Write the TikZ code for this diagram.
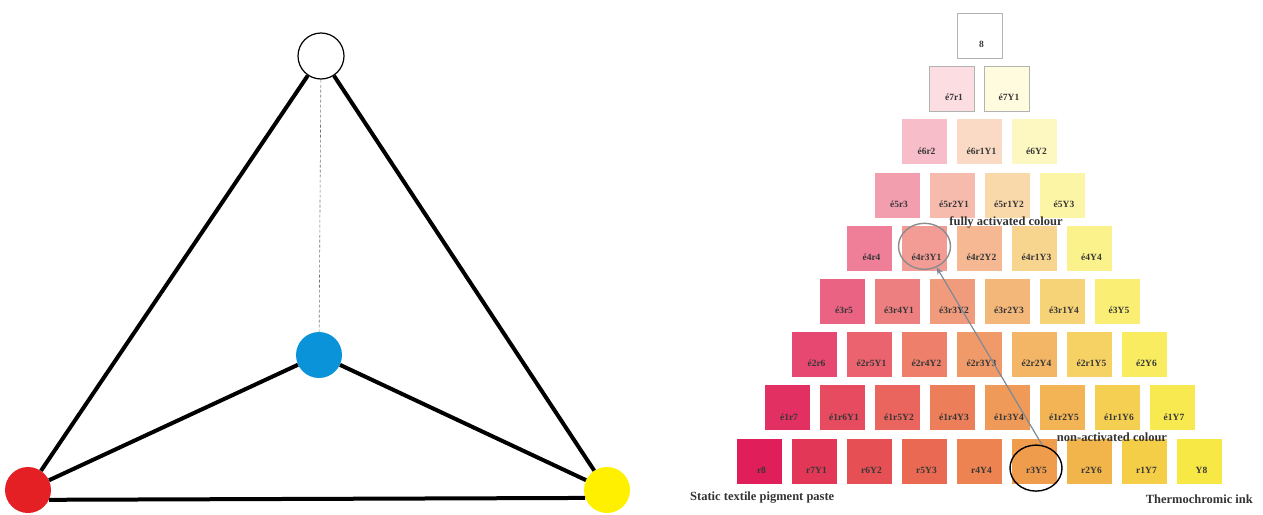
\documentclass[tikz,border=0pt]{standalone}
\usepackage{fontspec}
\setmainfont{Liberation Serif}
\usetikzlibrary{shapes.geometric,arrows.meta}
\definecolor{labtext}{RGB}{55,55,55}
\definecolor{dotblue}{RGB}{11,147,217}
\definecolor{dotred}{RGB}{228,32,37}
\definecolor{dotyellow}{RGB}{255,240,0}
\definecolor{arrowgray}{RGB}{125,138,150}
\tikzset{
  dot/.style={circle, minimum size=46pt, inner sep=0pt},
  edge/.style={line width=4pt, black},
  dashline/.style={densely dashed, line width=0.6pt, black!55},
  cell/.style={rectangle, minimum size=45pt, inner sep=0pt},
  lbl/.style={font=\bfseries\fontsize{9.5}{10}\selectfont, text=labtext, inner sep=0pt},
  caption/.style={font=\bfseries\fontsize{12.5}{14}\selectfont, text=black!80, inner sep=0pt},
  ring/.style={ellipse, minimum width=52pt, minimum height=46pt, inner sep=0pt, line width=1.4pt}
}
\begin{document}
\begin{tikzpicture}[x=1pt,y=-1pt]
\useasboundingbox (0,0) rectangle (1263,514);
% ---- left tetrahedron ----
\node[dot, draw=black, line width=1.2pt, fill=white] (top) at (321,56) {};
\node[dot, fill=dotblue] (blue) at (319,355) {};
\node[dot, fill=dotred] (red) at (28,490) {};
\node[dot, fill=dotyellow] (yellow) at (607,490) {};
\draw[dashline] (top) -- (blue);
\draw[edge] (top) -- (red);
\draw[edge] (top) -- (yellow);
\draw[edge] (blue) -- (red);
\draw[edge] (blue) -- (yellow);
\draw[edge] (red.-25) -- (yellow.200);
% ---- right colour triangle ----
\foreach \k in {1,...,9}{
  \pgfmathtruncatemacro\ee{9-\k}
  \pgfmathtruncatemacro\km{\k-1}
  \foreach \j in {0,...,\km}{
    \pgfmathtruncatemacro\rr{\k-1-\j}
    \pgfmathsetmacro\cx{979.5-27.5*(\k-1)+55*\j}
    \pgfmathsetmacro\cy{35.5+53.2*(\k-1)}
    \ifnum\k=1
      \definecolor{cc}{RGB}{255,255,255}
      \def\lab{8}
    \else
      \pgfmathsetmacro\ss{(\k-1)/8}
      \pgfmathtruncatemacro\cR{255-(31*\rr+7*\j)/8}
      \pgfmathsetmacro\Dg{(225*\rr+23*\j)/(\k-1)}
      \pgfmathtruncatemacro\cG{255-\Dg*(1-max(1-\ss,0.001)^1.2)}
      \pgfmathsetmacro\Db{(165*\rr+185*\j)/(\k-1)}
      \pgfmathtruncatemacro\cB{255-\Db*(1-max(1-\ss,0.001)^1.4)}
      \definecolor{cc}{RGB}{\cR,\cG,\cB}
      \ifnum\ee>0 \edef\lab{é\ee}\else\def\lab{}\fi
      \ifnum\rr>0 \edef\lab{\lab r\rr}\fi
      \ifnum\j>0 \edef\lab{\lab Y\j}\fi
    \fi
    \ifnum\k<3
      \node[cell, fill=cc, draw=black!30, line width=0.7pt] (c\k-\j) at (\cx,\cy) {};
    \else
      \node[cell, fill=cc] (c\k-\j) at (\cx,\cy) {};
    \fi
    \node[lbl] (l\k-\j) at ([xshift=2pt,yshift=-9pt]c\k-\j.center) {\lab};
  }
}
\node[ring, draw=black!45] (act) at ([yshift=2pt]c5-1.center) {};
\node[ring, draw=black] (nonact) at ([xshift=1.5pt,yshift=-7pt]c9-5.center) {};
\draw[arrowgray, line width=1.2pt, -{Stealth[length=7pt,width=6pt]}] (nonact.75) -- (act.-60);
\node[caption] (tfa) at (1006,222) {fully activated colour};
\node[caption] (tna) at (1112,437) {non-activated colour};
\node[caption, anchor=west] (tst) at (690,498) {Static textile pigment paste};
\node[caption, anchor=east] (tth) at (1253,499) {Thermochromic ink};
\end{tikzpicture}
\end{document}
